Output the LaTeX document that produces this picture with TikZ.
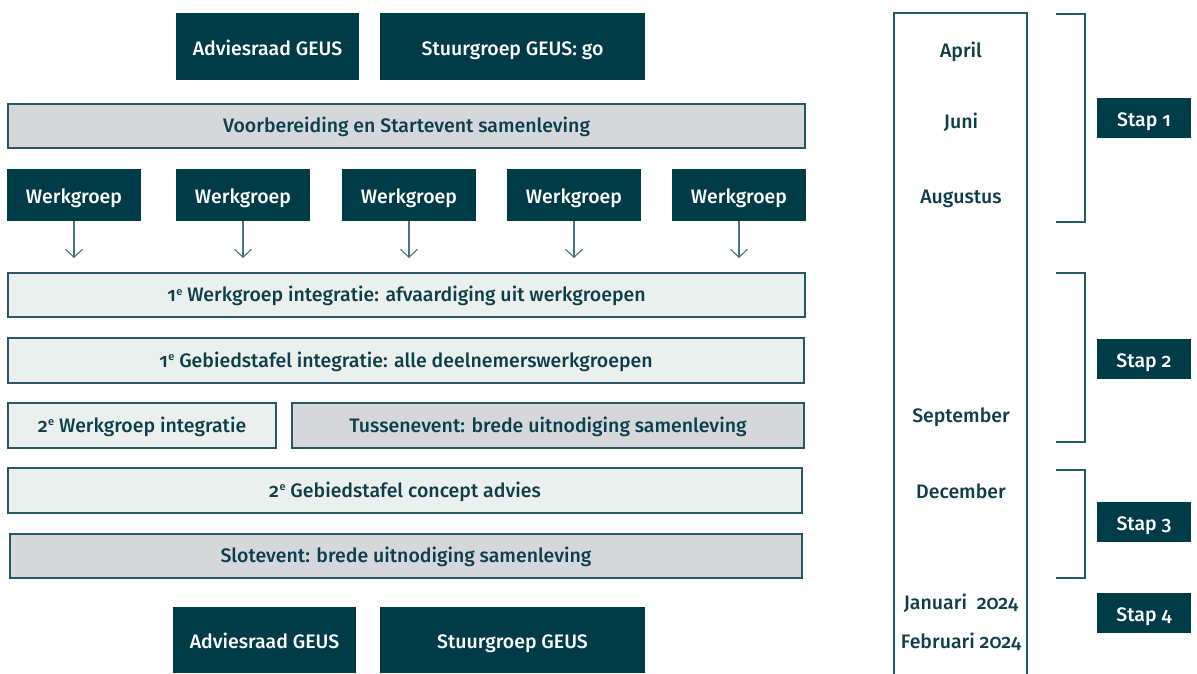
\documentclass[tikz,border=0pt]{standalone}
\usepackage{fontspec}
\setmainfont{Fira Sans}[BoldFont={Fira Sans Medium},Numbers=OldStyle]
\usetikzlibrary{arrows.meta}
\definecolor{dark}{HTML}{003B48}
\definecolor{ink}{HTML}{0D3E4B}
\definecolor{greyfill}{HTML}{D4D8DB}
\definecolor{lightfill}{HTML}{EAF0EE}
\definecolor{edge}{HTML}{2B5865}
\definecolor{arrowline}{HTML}{4A7380}
\newcommand{\bx}[7]{\node[#6, minimum width={(#4-#2)*1pt}, minimum height={(#5-#3)*1pt}] (#1) at ({(#2+#4)/2},{(#3+#5)/2}) {#7};}
\newcommand{\supe}{\kern0.5pt\raisebox{6.5pt}{\fontsize{11}{11}\selectfont e}}
\begin{document}
\begin{tikzpicture}[x=1pt,y=-1pt,
  base/.style={inner sep=0pt, outer sep=0pt, text depth=0pt, font=\bfseries\fontsize{19.5}{21}\selectfont},
  darkbox/.style={base, text height=17pt, fill=dark, text=white},
  greybox/.style={base, text height=13pt, fill=greyfill, draw=edge, line width=1.1pt, text=ink},
  lightbox/.style={base, text height=13pt, fill=lightfill, draw=edge, line width=1.1pt, text=ink},
  month/.style={inner sep=0pt, text height=16pt, text depth=0pt, text=ink, font=\bfseries\fontsize{19.5}{21}\selectfont},
  bracket/.style={draw=edge, line width=1.1pt},
  flow/.style={draw=arrowline, line width=1.1pt, -{Straight Barb[length=8pt,width=17pt,line width=1.1pt]}}
]
\useasboundingbox (0,0) rectangle (1197,673);
% top
\bx{adv1}{176}{13}{359}{80}{darkbox}{Adviesraad GEUS}
\bx{stu1}{380}{13}{645}{80}{darkbox}{Stuurgroep GEUS: go}
\bx{voor}{8}{104}{805}{148}{greybox}{Voorbereiding en Startevent samenleving}
% werkgroepen
\bx{w1}{7}{169}{141}{221}{darkbox}{Werkgroep}
\bx{w2}{176}{169}{310}{221}{darkbox}{Werkgroep}
\bx{w3}{342}{169}{476}{221}{darkbox}{Werkgroep}
\bx{w4}{507}{169}{641}{221}{darkbox}{Werkgroep}
\bx{w5}{672}{169}{806}{221}{darkbox}{Werkgroep}
\foreach \i/\xx in {1/74,2/243,3/409,4/574,5/739}{
  \coordinate (a\i) at (\xx,258);
  \draw[flow] (w\i.south) -- (a\i);
}
\bx{wi1}{8}{273}{805}{317}{lightbox}{1\supe{} Werkgroep integratie: afvaardiging uit werkgroepen}
\bx{gt1}{8}{338}{804}{383}{lightbox}{1\supe{} Gebiedstafel integratie: alle deelnemerswerkgroepen}
\bx{wi2}{8}{403}{276}{448}{lightbox}{2\supe{} Werkgroep integratie}
\bx{tus}{292}{403}{804}{448}{greybox}{Tussenevent: brede uitnodiging samenleving}
\bx{gt2}{8}{468}{802}{513}{lightbox}{2\supe{} Gebiedstafel concept advies}
\bx{slot}{10}{534}{802}{578}{greybox}{Slotevent: brede uitnodiging samenleving}
\bx{adv2}{173}{607}{356}{673}{darkbox}{Adviesraad GEUS}
\bx{stu2}{380}{607}{645}{673}{darkbox}{Stuurgroep GEUS}
% timeline
\draw[draw=edge, line width=1.1pt] (894,680) -- (894,13) -- (1027,13) -- (1027,680);
\node[month] (m1) at (961,49) {April};
\node[month] (m2) at (961,120) {Juni};
\node[month] (m3) at (961,195) {Augustus};
\node[month] (m4) at (961,414) {September};
\node[month] (m5) at (961,490) {December};
\node[month] (m6) at (961,601) {Januari\ \ 2024};
\node[month] (m7) at (961,640) {Februari 2024};
% brackets
\draw[bracket] (1056,14) -- (1085,14) -- (1085,222) -- (1056,222);
\draw[bracket] (1056,273) -- (1085,273) -- (1085,442) -- (1056,442);
\draw[bracket] (1056,470) -- (1085,470) -- (1085,578) -- (1056,578);
\bx{s1}{1097}{98}{1191}{138}{darkbox}{Stap 1}
\bx{s2}{1097}{339}{1191}{379}{darkbox}{Stap 2}
\bx{s3}{1097}{502}{1191}{542}{darkbox}{Stap 3}
\bx{s4}{1097}{593}{1191}{633}{darkbox}{Stap 4}
\end{tikzpicture}
\end{document}
